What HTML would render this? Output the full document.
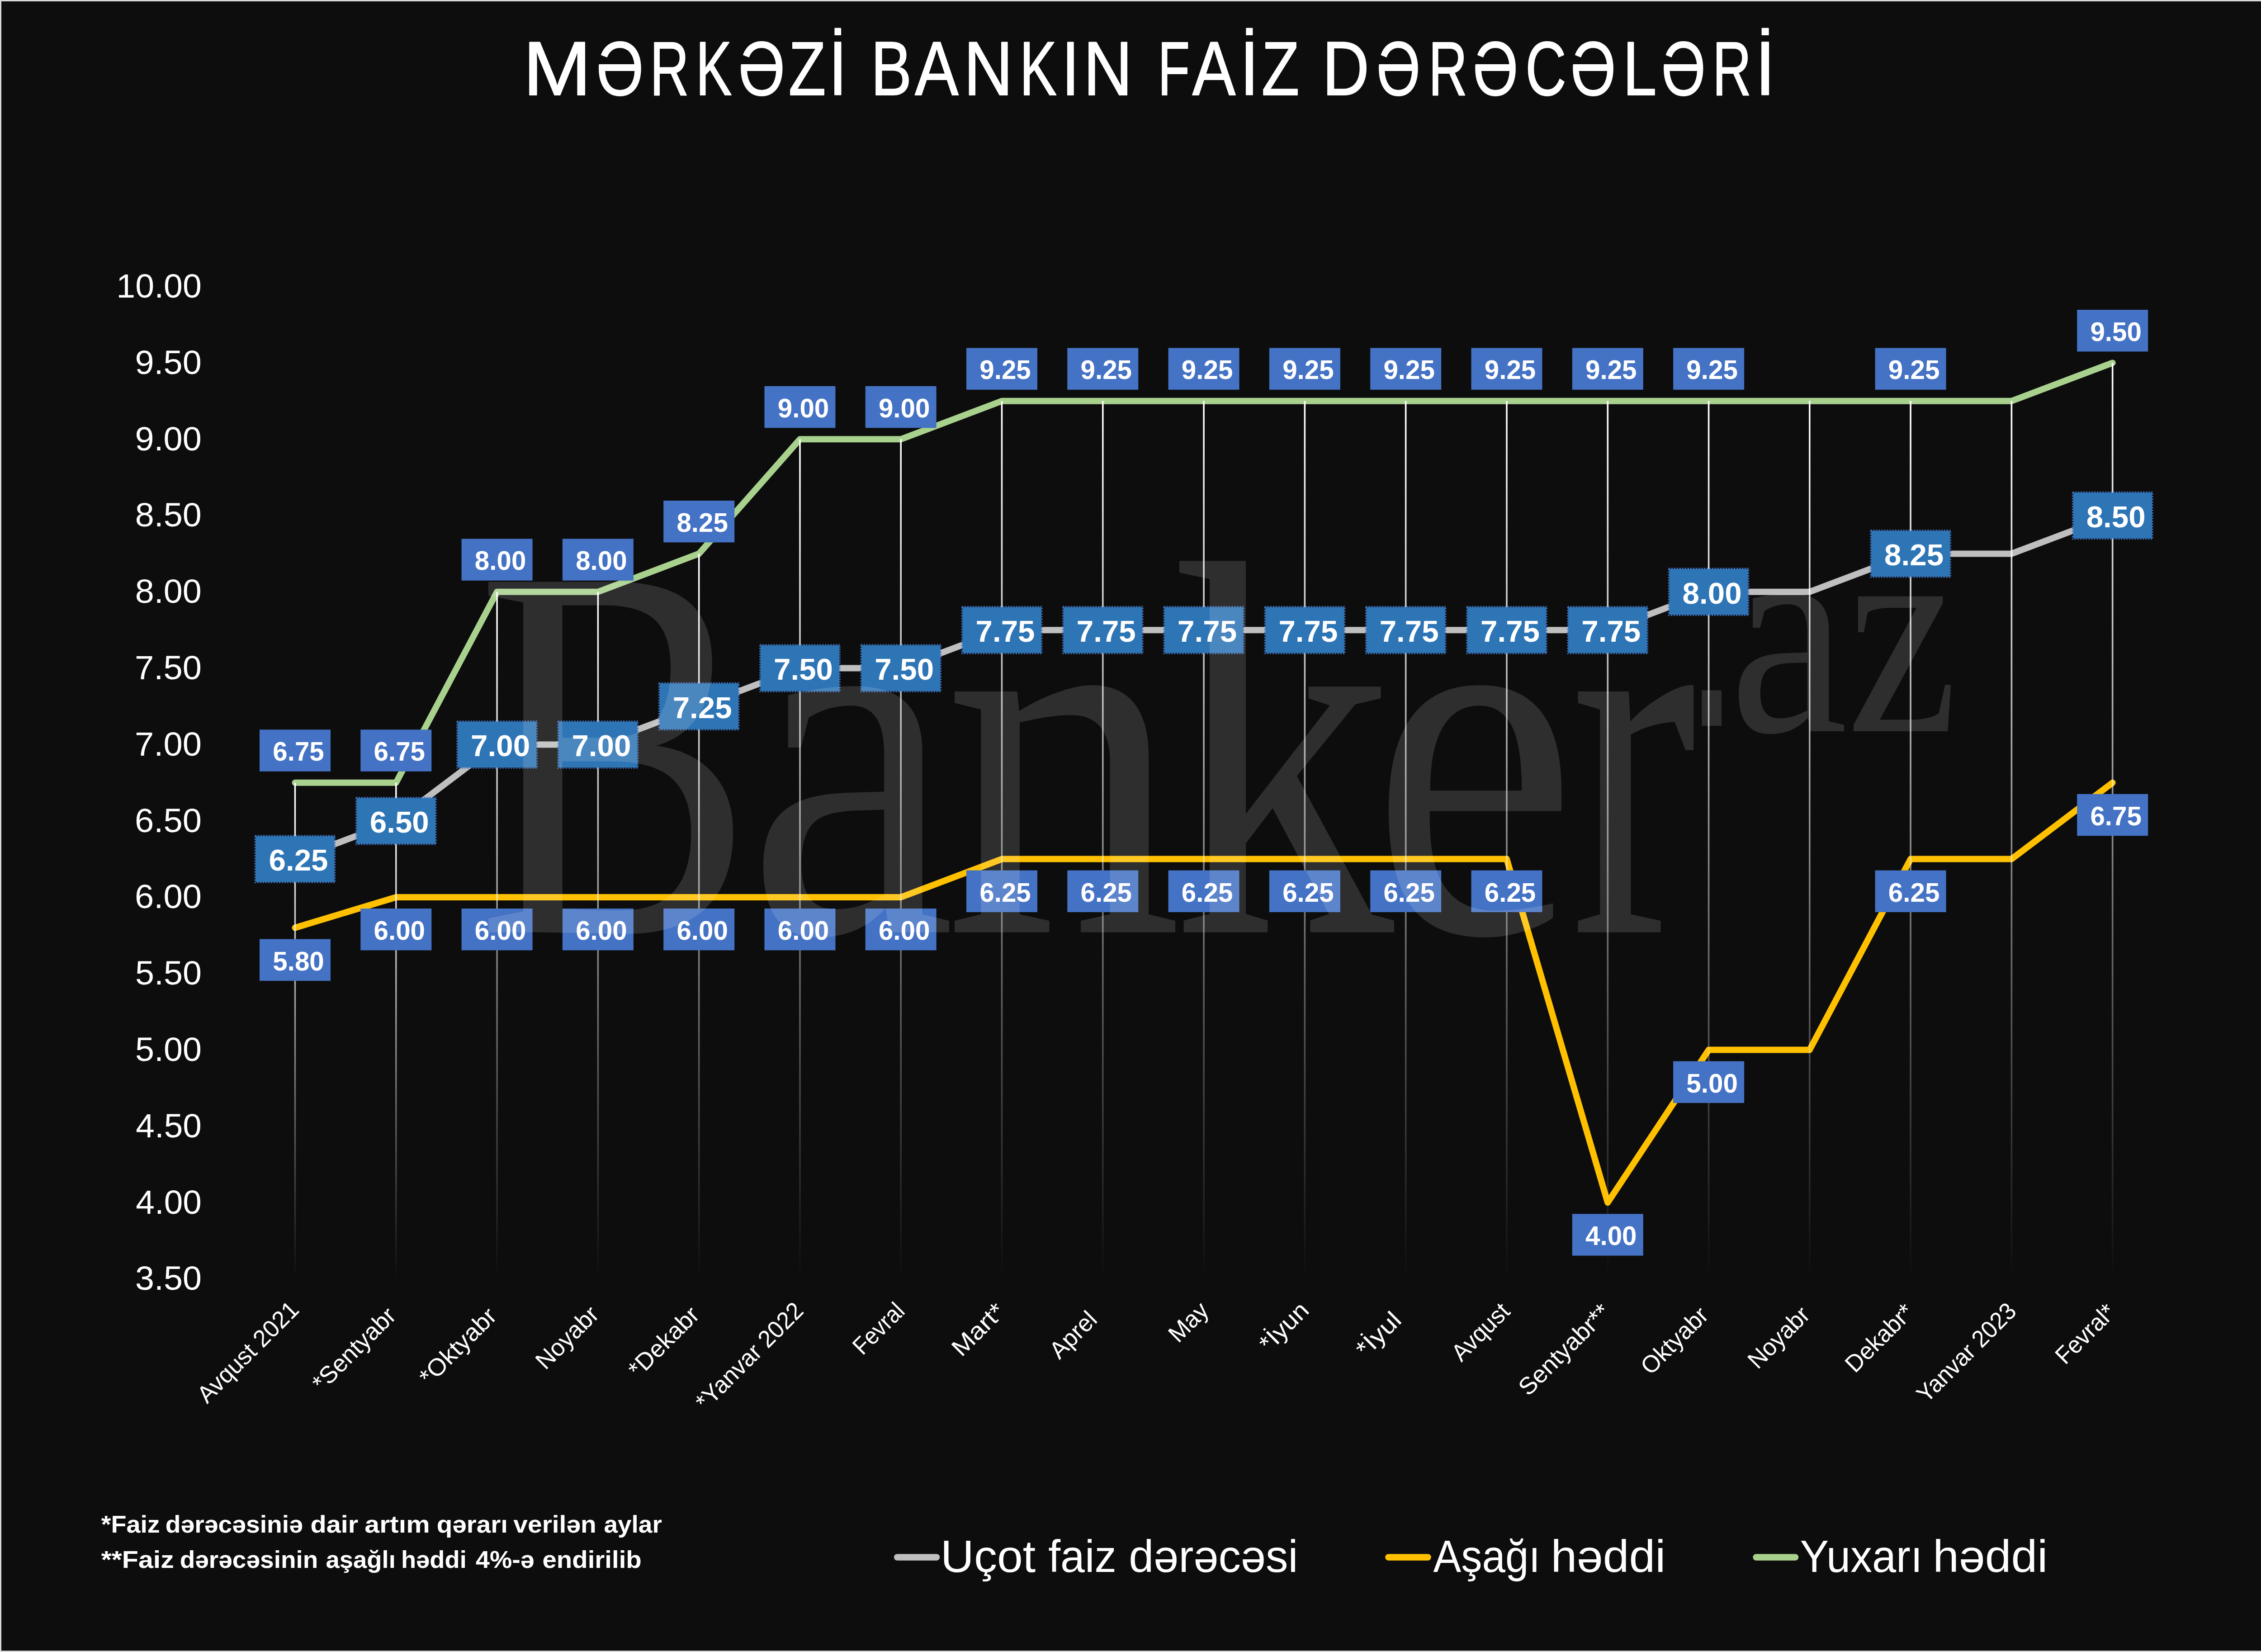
<!DOCTYPE html>
<html lang="az"><head><meta charset="utf-8"><title>MƏRKƏZİ BANKIN FAİZ DƏRƏCƏLƏRİ</title>
<style>html,body{margin:0;padding:0;background:#0d0d0d;}body{width:5082px;height:3653px;overflow:hidden}svg{display:block}</style>
</head><body>
<svg width="5082" height="3653" viewBox="0 0 5082 3653">
<defs>
<linearGradient id="g0" gradientUnits="userSpaceOnUse" x1="0" y1="1730.8" x2="0" y2="2828.0"><stop offset="0" stop-color="#fff" stop-opacity="1"/><stop offset="0.316" stop-color="#fff" stop-opacity="0.72"/><stop offset="0.728" stop-color="#fff" stop-opacity="0.277"/><stop offset="1" stop-color="#fff" stop-opacity="0"/></linearGradient>
<linearGradient id="g1" gradientUnits="userSpaceOnUse" x1="0" y1="1730.8" x2="0" y2="2828.0"><stop offset="0" stop-color="#fff" stop-opacity="1"/><stop offset="0.316" stop-color="#fff" stop-opacity="0.72"/><stop offset="0.728" stop-color="#fff" stop-opacity="0.277"/><stop offset="1" stop-color="#fff" stop-opacity="0"/></linearGradient>
<linearGradient id="g2" gradientUnits="userSpaceOnUse" x1="0" y1="1308.8" x2="0" y2="2828.0"><stop offset="0" stop-color="#fff" stop-opacity="1"/><stop offset="0.316" stop-color="#fff" stop-opacity="0.72"/><stop offset="0.728" stop-color="#fff" stop-opacity="0.277"/><stop offset="1" stop-color="#fff" stop-opacity="0"/></linearGradient>
<linearGradient id="g3" gradientUnits="userSpaceOnUse" x1="0" y1="1308.8" x2="0" y2="2828.0"><stop offset="0" stop-color="#fff" stop-opacity="1"/><stop offset="0.316" stop-color="#fff" stop-opacity="0.72"/><stop offset="0.728" stop-color="#fff" stop-opacity="0.277"/><stop offset="1" stop-color="#fff" stop-opacity="0"/></linearGradient>
<linearGradient id="g4" gradientUnits="userSpaceOnUse" x1="0" y1="1224.4" x2="0" y2="2828.0"><stop offset="0" stop-color="#fff" stop-opacity="1"/><stop offset="0.316" stop-color="#fff" stop-opacity="0.72"/><stop offset="0.728" stop-color="#fff" stop-opacity="0.277"/><stop offset="1" stop-color="#fff" stop-opacity="0"/></linearGradient>
<linearGradient id="g5" gradientUnits="userSpaceOnUse" x1="0" y1="971.2" x2="0" y2="2828.0"><stop offset="0" stop-color="#fff" stop-opacity="1"/><stop offset="0.316" stop-color="#fff" stop-opacity="0.72"/><stop offset="0.728" stop-color="#fff" stop-opacity="0.277"/><stop offset="1" stop-color="#fff" stop-opacity="0"/></linearGradient>
<linearGradient id="g6" gradientUnits="userSpaceOnUse" x1="0" y1="971.2" x2="0" y2="2828.0"><stop offset="0" stop-color="#fff" stop-opacity="1"/><stop offset="0.316" stop-color="#fff" stop-opacity="0.72"/><stop offset="0.728" stop-color="#fff" stop-opacity="0.277"/><stop offset="1" stop-color="#fff" stop-opacity="0"/></linearGradient>
<linearGradient id="g7" gradientUnits="userSpaceOnUse" x1="0" y1="886.8" x2="0" y2="2828.0"><stop offset="0" stop-color="#fff" stop-opacity="1"/><stop offset="0.316" stop-color="#fff" stop-opacity="0.72"/><stop offset="0.728" stop-color="#fff" stop-opacity="0.277"/><stop offset="1" stop-color="#fff" stop-opacity="0"/></linearGradient>
<linearGradient id="g8" gradientUnits="userSpaceOnUse" x1="0" y1="886.8" x2="0" y2="2828.0"><stop offset="0" stop-color="#fff" stop-opacity="1"/><stop offset="0.316" stop-color="#fff" stop-opacity="0.72"/><stop offset="0.728" stop-color="#fff" stop-opacity="0.277"/><stop offset="1" stop-color="#fff" stop-opacity="0"/></linearGradient>
<linearGradient id="g9" gradientUnits="userSpaceOnUse" x1="0" y1="886.8" x2="0" y2="2828.0"><stop offset="0" stop-color="#fff" stop-opacity="1"/><stop offset="0.316" stop-color="#fff" stop-opacity="0.72"/><stop offset="0.728" stop-color="#fff" stop-opacity="0.277"/><stop offset="1" stop-color="#fff" stop-opacity="0"/></linearGradient>
<linearGradient id="g10" gradientUnits="userSpaceOnUse" x1="0" y1="886.8" x2="0" y2="2828.0"><stop offset="0" stop-color="#fff" stop-opacity="1"/><stop offset="0.316" stop-color="#fff" stop-opacity="0.72"/><stop offset="0.728" stop-color="#fff" stop-opacity="0.277"/><stop offset="1" stop-color="#fff" stop-opacity="0"/></linearGradient>
<linearGradient id="g11" gradientUnits="userSpaceOnUse" x1="0" y1="886.8" x2="0" y2="2828.0"><stop offset="0" stop-color="#fff" stop-opacity="1"/><stop offset="0.316" stop-color="#fff" stop-opacity="0.72"/><stop offset="0.728" stop-color="#fff" stop-opacity="0.277"/><stop offset="1" stop-color="#fff" stop-opacity="0"/></linearGradient>
<linearGradient id="g12" gradientUnits="userSpaceOnUse" x1="0" y1="886.8" x2="0" y2="2828.0"><stop offset="0" stop-color="#fff" stop-opacity="1"/><stop offset="0.316" stop-color="#fff" stop-opacity="0.72"/><stop offset="0.728" stop-color="#fff" stop-opacity="0.277"/><stop offset="1" stop-color="#fff" stop-opacity="0"/></linearGradient>
<linearGradient id="g13" gradientUnits="userSpaceOnUse" x1="0" y1="886.8" x2="0" y2="2828.0"><stop offset="0" stop-color="#fff" stop-opacity="1"/><stop offset="0.316" stop-color="#fff" stop-opacity="0.72"/><stop offset="0.728" stop-color="#fff" stop-opacity="0.277"/><stop offset="1" stop-color="#fff" stop-opacity="0"/></linearGradient>
<linearGradient id="g14" gradientUnits="userSpaceOnUse" x1="0" y1="886.8" x2="0" y2="2828.0"><stop offset="0" stop-color="#fff" stop-opacity="1"/><stop offset="0.316" stop-color="#fff" stop-opacity="0.72"/><stop offset="0.728" stop-color="#fff" stop-opacity="0.277"/><stop offset="1" stop-color="#fff" stop-opacity="0"/></linearGradient>
<linearGradient id="g15" gradientUnits="userSpaceOnUse" x1="0" y1="886.8" x2="0" y2="2828.0"><stop offset="0" stop-color="#fff" stop-opacity="1"/><stop offset="0.316" stop-color="#fff" stop-opacity="0.72"/><stop offset="0.728" stop-color="#fff" stop-opacity="0.277"/><stop offset="1" stop-color="#fff" stop-opacity="0"/></linearGradient>
<linearGradient id="g16" gradientUnits="userSpaceOnUse" x1="0" y1="886.8" x2="0" y2="2828.0"><stop offset="0" stop-color="#fff" stop-opacity="1"/><stop offset="0.316" stop-color="#fff" stop-opacity="0.72"/><stop offset="0.728" stop-color="#fff" stop-opacity="0.277"/><stop offset="1" stop-color="#fff" stop-opacity="0"/></linearGradient>
<linearGradient id="g17" gradientUnits="userSpaceOnUse" x1="0" y1="886.8" x2="0" y2="2828.0"><stop offset="0" stop-color="#fff" stop-opacity="1"/><stop offset="0.316" stop-color="#fff" stop-opacity="0.72"/><stop offset="0.728" stop-color="#fff" stop-opacity="0.277"/><stop offset="1" stop-color="#fff" stop-opacity="0"/></linearGradient>
<linearGradient id="g18" gradientUnits="userSpaceOnUse" x1="0" y1="802.4" x2="0" y2="2828.0"><stop offset="0" stop-color="#fff" stop-opacity="1"/><stop offset="0.316" stop-color="#fff" stop-opacity="0.72"/><stop offset="0.728" stop-color="#fff" stop-opacity="0.277"/><stop offset="1" stop-color="#fff" stop-opacity="0"/></linearGradient>
</defs>
<rect x="0" y="0" width="5082" height="3653" fill="#d9d9d9"/>
<rect x="3" y="3" width="5076" height="3647" fill="#0d0d0d"/>
<polyline points="652.5,1899.6 875.8,1815.2 1099.1,1646.4 1322.4,1646.4 1545.7,1562.0 1769.0,1477.6 1992.2,1477.6 2215.5,1393.2 2438.8,1393.2 2662.1,1393.2 2885.4,1393.2 3108.7,1393.2 3332.0,1393.2 3555.3,1393.2 3778.6,1308.8 4001.8,1308.8 4225.1,1224.4 4448.4,1224.4 4671.7,1140.0" fill="none" stroke="#bfbfbf" stroke-width="14" stroke-linecap="round" stroke-linejoin="round"/>
<polyline points="652.5,2051.5 875.8,1984.0 1099.1,1984.0 1322.4,1984.0 1545.7,1984.0 1769.0,1984.0 1992.2,1984.0 2215.5,1899.6 2438.8,1899.6 2662.1,1899.6 2885.4,1899.6 3108.7,1899.6 3332.0,1899.6 3555.3,2659.2 3778.6,2321.6 4001.8,2321.6 4225.1,1899.6 4448.4,1899.6 4671.7,1730.8" fill="none" stroke="#ffc000" stroke-width="14" stroke-linecap="round" stroke-linejoin="round"/>
<polyline points="652.5,1730.8 875.8,1730.8 1099.1,1308.8 1322.4,1308.8 1545.7,1224.4 1769.0,971.2 1992.2,971.2 2215.5,886.8 2438.8,886.8 2662.1,886.8 2885.4,886.8 3108.7,886.8 3332.0,886.8 3555.3,886.8 3778.6,886.8 4001.8,886.8 4225.1,886.8 4448.4,886.8 4671.7,802.4" fill="none" stroke="#a9d18e" stroke-width="14" stroke-linecap="round" stroke-linejoin="round"/>
<rect x="650.7" y="1730.8" width="3.6" height="1097.2" fill="url(#g0)"/>
<rect x="874.0" y="1730.8" width="3.6" height="1097.2" fill="url(#g1)"/>
<rect x="1097.3" y="1308.8" width="3.6" height="1519.2" fill="url(#g2)"/>
<rect x="1320.6" y="1308.8" width="3.6" height="1519.2" fill="url(#g3)"/>
<rect x="1543.9" y="1224.4" width="3.6" height="1603.6" fill="url(#g4)"/>
<rect x="1767.2" y="971.2" width="3.6" height="1856.8" fill="url(#g5)"/>
<rect x="1990.4" y="971.2" width="3.6" height="1856.8" fill="url(#g6)"/>
<rect x="2213.7" y="886.8" width="3.6" height="1941.2" fill="url(#g7)"/>
<rect x="2437.0" y="886.8" width="3.6" height="1941.2" fill="url(#g8)"/>
<rect x="2660.3" y="886.8" width="3.6" height="1941.2" fill="url(#g9)"/>
<rect x="2883.6" y="886.8" width="3.6" height="1941.2" fill="url(#g10)"/>
<rect x="3106.9" y="886.8" width="3.6" height="1941.2" fill="url(#g11)"/>
<rect x="3330.2" y="886.8" width="3.6" height="1941.2" fill="url(#g12)"/>
<rect x="3553.5" y="886.8" width="3.6" height="1941.2" fill="url(#g13)"/>
<rect x="3776.8" y="886.8" width="3.6" height="1941.2" fill="url(#g14)"/>
<rect x="4000.0" y="886.8" width="3.6" height="1941.2" fill="url(#g15)"/>
<rect x="4223.3" y="886.8" width="3.6" height="1941.2" fill="url(#g16)"/>
<rect x="4446.6" y="886.8" width="3.6" height="1941.2" fill="url(#g17)"/>
<rect x="4669.9" y="802.4" width="3.6" height="2025.6" fill="url(#g18)"/>
<g font-family="'Liberation Sans', sans-serif" font-weight="bold" fill="#fff" text-anchor="middle">
<rect x="574.0" y="1613.4" width="157" height="92.4" fill="#4472c4"/>
<text x="660.0" y="1682.4" font-size="59.5" textLength="113.5" lengthAdjust="spacingAndGlyphs">6.75</text>
<rect x="574.0" y="2076.5" width="157" height="92.4" fill="#4472c4"/>
<text x="660.0" y="2145.5" font-size="59.5" textLength="113.5" lengthAdjust="spacingAndGlyphs">5.80</text>
<rect x="797.3" y="1613.4" width="157" height="92.4" fill="#4472c4"/>
<text x="883.3" y="1682.4" font-size="59.5" textLength="113.5" lengthAdjust="spacingAndGlyphs">6.75</text>
<rect x="797.3" y="2009.0" width="157" height="92.4" fill="#4472c4"/>
<text x="883.3" y="2078.0" font-size="59.5" textLength="113.5" lengthAdjust="spacingAndGlyphs">6.00</text>
<rect x="1020.6" y="1191.4" width="157" height="92.4" fill="#4472c4"/>
<text x="1106.6" y="1260.4" font-size="59.5" textLength="113.5" lengthAdjust="spacingAndGlyphs">8.00</text>
<rect x="1020.6" y="2009.0" width="157" height="92.4" fill="#4472c4"/>
<text x="1106.6" y="2078.0" font-size="59.5" textLength="113.5" lengthAdjust="spacingAndGlyphs">6.00</text>
<rect x="1243.9" y="1191.4" width="157" height="92.4" fill="#4472c4"/>
<text x="1329.9" y="1260.4" font-size="59.5" textLength="113.5" lengthAdjust="spacingAndGlyphs">8.00</text>
<rect x="1243.9" y="2009.0" width="157" height="92.4" fill="#4472c4"/>
<text x="1329.9" y="2078.0" font-size="59.5" textLength="113.5" lengthAdjust="spacingAndGlyphs">6.00</text>
<rect x="1467.2" y="1107.0" width="157" height="92.4" fill="#4472c4"/>
<text x="1553.2" y="1176.0" font-size="59.5" textLength="113.5" lengthAdjust="spacingAndGlyphs">8.25</text>
<rect x="1467.2" y="2009.0" width="157" height="92.4" fill="#4472c4"/>
<text x="1553.2" y="2078.0" font-size="59.5" textLength="113.5" lengthAdjust="spacingAndGlyphs">6.00</text>
<rect x="1690.5" y="853.8" width="157" height="92.4" fill="#4472c4"/>
<text x="1776.5" y="922.8" font-size="59.5" textLength="113.5" lengthAdjust="spacingAndGlyphs">9.00</text>
<rect x="1690.5" y="2009.0" width="157" height="92.4" fill="#4472c4"/>
<text x="1776.5" y="2078.0" font-size="59.5" textLength="113.5" lengthAdjust="spacingAndGlyphs">6.00</text>
<rect x="1913.7" y="853.8" width="157" height="92.4" fill="#4472c4"/>
<text x="1999.7" y="922.8" font-size="59.5" textLength="113.5" lengthAdjust="spacingAndGlyphs">9.00</text>
<rect x="1913.7" y="2009.0" width="157" height="92.4" fill="#4472c4"/>
<text x="1999.7" y="2078.0" font-size="59.5" textLength="113.5" lengthAdjust="spacingAndGlyphs">6.00</text>
<rect x="2137.0" y="769.4" width="157" height="92.4" fill="#4472c4"/>
<text x="2223.0" y="838.4" font-size="59.5" textLength="113.5" lengthAdjust="spacingAndGlyphs">9.25</text>
<rect x="2137.0" y="1924.6" width="157" height="92.4" fill="#4472c4"/>
<text x="2223.0" y="1993.6" font-size="59.5" textLength="113.5" lengthAdjust="spacingAndGlyphs">6.25</text>
<rect x="2360.3" y="769.4" width="157" height="92.4" fill="#4472c4"/>
<text x="2446.3" y="838.4" font-size="59.5" textLength="113.5" lengthAdjust="spacingAndGlyphs">9.25</text>
<rect x="2360.3" y="1924.6" width="157" height="92.4" fill="#4472c4"/>
<text x="2446.3" y="1993.6" font-size="59.5" textLength="113.5" lengthAdjust="spacingAndGlyphs">6.25</text>
<rect x="2583.6" y="769.4" width="157" height="92.4" fill="#4472c4"/>
<text x="2669.6" y="838.4" font-size="59.5" textLength="113.5" lengthAdjust="spacingAndGlyphs">9.25</text>
<rect x="2583.6" y="1924.6" width="157" height="92.4" fill="#4472c4"/>
<text x="2669.6" y="1993.6" font-size="59.5" textLength="113.5" lengthAdjust="spacingAndGlyphs">6.25</text>
<rect x="2806.9" y="769.4" width="157" height="92.4" fill="#4472c4"/>
<text x="2892.9" y="838.4" font-size="59.5" textLength="113.5" lengthAdjust="spacingAndGlyphs">9.25</text>
<rect x="2806.9" y="1924.6" width="157" height="92.4" fill="#4472c4"/>
<text x="2892.9" y="1993.6" font-size="59.5" textLength="113.5" lengthAdjust="spacingAndGlyphs">6.25</text>
<rect x="3030.2" y="769.4" width="157" height="92.4" fill="#4472c4"/>
<text x="3116.2" y="838.4" font-size="59.5" textLength="113.5" lengthAdjust="spacingAndGlyphs">9.25</text>
<rect x="3030.2" y="1924.6" width="157" height="92.4" fill="#4472c4"/>
<text x="3116.2" y="1993.6" font-size="59.5" textLength="113.5" lengthAdjust="spacingAndGlyphs">6.25</text>
<rect x="3253.5" y="769.4" width="157" height="92.4" fill="#4472c4"/>
<text x="3339.5" y="838.4" font-size="59.5" textLength="113.5" lengthAdjust="spacingAndGlyphs">9.25</text>
<rect x="3253.5" y="1924.6" width="157" height="92.4" fill="#4472c4"/>
<text x="3339.5" y="1993.6" font-size="59.5" textLength="113.5" lengthAdjust="spacingAndGlyphs">6.25</text>
<rect x="3476.8" y="769.4" width="157" height="92.4" fill="#4472c4"/>
<text x="3562.8" y="838.4" font-size="59.5" textLength="113.5" lengthAdjust="spacingAndGlyphs">9.25</text>
<rect x="3476.8" y="2684.2" width="157" height="92.4" fill="#4472c4"/>
<text x="3562.8" y="2753.2" font-size="59.5" textLength="113.5" lengthAdjust="spacingAndGlyphs">4.00</text>
<rect x="3700.1" y="769.4" width="157" height="92.4" fill="#4472c4"/>
<text x="3786.1" y="838.4" font-size="59.5" textLength="113.5" lengthAdjust="spacingAndGlyphs">9.25</text>
<rect x="3700.1" y="2346.6" width="157" height="92.4" fill="#4472c4"/>
<text x="3786.1" y="2415.6" font-size="59.5" textLength="113.5" lengthAdjust="spacingAndGlyphs">5.00</text>
<rect x="4146.6" y="769.4" width="157" height="92.4" fill="#4472c4"/>
<text x="4232.6" y="838.4" font-size="59.5" textLength="113.5" lengthAdjust="spacingAndGlyphs">9.25</text>
<rect x="4146.6" y="1924.6" width="157" height="92.4" fill="#4472c4"/>
<text x="4232.6" y="1993.6" font-size="59.5" textLength="113.5" lengthAdjust="spacingAndGlyphs">6.25</text>
<rect x="4593.2" y="685.0" width="157" height="92.4" fill="#4472c4"/>
<text x="4679.2" y="754.0" font-size="59.5" textLength="113.5" lengthAdjust="spacingAndGlyphs">9.50</text>
<rect x="4593.2" y="1755.8" width="157" height="92.4" fill="#4472c4"/>
<text x="4679.2" y="1824.8" font-size="59.5" textLength="113.5" lengthAdjust="spacingAndGlyphs">6.75</text>
<rect x="565.2" y="1848.8" width="174.5" height="101.5" fill="#2e75b6"/>
<rect x="564.00" y="1847.60" width="177.0" height="104.0" fill="none" stroke="#4472c4" stroke-width="2.5" stroke-dasharray="3 3"/>
<text x="660.0" y="1925.4" font-size="67" textLength="131" lengthAdjust="spacingAndGlyphs">6.25</text>
<rect x="788.5" y="1764.5" width="174.5" height="101.5" fill="#2e75b6"/>
<rect x="787.29" y="1763.20" width="177.0" height="104.0" fill="none" stroke="#4472c4" stroke-width="2.5" stroke-dasharray="3 3"/>
<text x="883.3" y="1841.0" font-size="67" textLength="131" lengthAdjust="spacingAndGlyphs">6.50</text>
<rect x="1011.8" y="1595.7" width="174.5" height="101.5" fill="#2e75b6"/>
<rect x="1010.58" y="1594.40" width="177.0" height="104.0" fill="none" stroke="#4472c4" stroke-width="2.5" stroke-dasharray="3 3"/>
<text x="1106.6" y="1672.2" font-size="67" textLength="131" lengthAdjust="spacingAndGlyphs">7.00</text>
<rect x="1235.1" y="1595.7" width="174.5" height="101.5" fill="#2e75b6"/>
<rect x="1233.87" y="1594.40" width="177.0" height="104.0" fill="none" stroke="#4472c4" stroke-width="2.5" stroke-dasharray="3 3"/>
<text x="1329.9" y="1672.2" font-size="67" textLength="131" lengthAdjust="spacingAndGlyphs">7.00</text>
<rect x="1458.4" y="1511.2" width="174.5" height="101.5" fill="#2e75b6"/>
<rect x="1457.16" y="1510.00" width="177.0" height="104.0" fill="none" stroke="#4472c4" stroke-width="2.5" stroke-dasharray="3 3"/>
<text x="1553.2" y="1587.8" font-size="67" textLength="131" lengthAdjust="spacingAndGlyphs">7.25</text>
<rect x="1681.7" y="1426.8" width="174.5" height="101.5" fill="#2e75b6"/>
<rect x="1680.45" y="1425.60" width="177.0" height="104.0" fill="none" stroke="#4472c4" stroke-width="2.5" stroke-dasharray="3 3"/>
<text x="1776.5" y="1503.4" font-size="67" textLength="131" lengthAdjust="spacingAndGlyphs">7.50</text>
<rect x="1905.0" y="1426.8" width="174.5" height="101.5" fill="#2e75b6"/>
<rect x="1903.74" y="1425.60" width="177.0" height="104.0" fill="none" stroke="#4472c4" stroke-width="2.5" stroke-dasharray="3 3"/>
<text x="1999.7" y="1503.4" font-size="67" textLength="131" lengthAdjust="spacingAndGlyphs">7.50</text>
<rect x="2128.3" y="1342.4" width="174.5" height="101.5" fill="#2e75b6"/>
<rect x="2127.03" y="1341.20" width="177.0" height="104.0" fill="none" stroke="#4472c4" stroke-width="2.5" stroke-dasharray="3 3"/>
<text x="2223.0" y="1419.0" font-size="67" textLength="131" lengthAdjust="spacingAndGlyphs">7.75</text>
<rect x="2351.6" y="1342.4" width="174.5" height="101.5" fill="#2e75b6"/>
<rect x="2350.32" y="1341.20" width="177.0" height="104.0" fill="none" stroke="#4472c4" stroke-width="2.5" stroke-dasharray="3 3"/>
<text x="2446.3" y="1419.0" font-size="67" textLength="131" lengthAdjust="spacingAndGlyphs">7.75</text>
<rect x="2574.9" y="1342.4" width="174.5" height="101.5" fill="#2e75b6"/>
<rect x="2573.61" y="1341.20" width="177.0" height="104.0" fill="none" stroke="#4472c4" stroke-width="2.5" stroke-dasharray="3 3"/>
<text x="2669.6" y="1419.0" font-size="67" textLength="131" lengthAdjust="spacingAndGlyphs">7.75</text>
<rect x="2798.2" y="1342.4" width="174.5" height="101.5" fill="#2e75b6"/>
<rect x="2796.90" y="1341.20" width="177.0" height="104.0" fill="none" stroke="#4472c4" stroke-width="2.5" stroke-dasharray="3 3"/>
<text x="2892.9" y="1419.0" font-size="67" textLength="131" lengthAdjust="spacingAndGlyphs">7.75</text>
<rect x="3021.4" y="1342.4" width="174.5" height="101.5" fill="#2e75b6"/>
<rect x="3020.19" y="1341.20" width="177.0" height="104.0" fill="none" stroke="#4472c4" stroke-width="2.5" stroke-dasharray="3 3"/>
<text x="3116.2" y="1419.0" font-size="67" textLength="131" lengthAdjust="spacingAndGlyphs">7.75</text>
<rect x="3244.7" y="1342.4" width="174.5" height="101.5" fill="#2e75b6"/>
<rect x="3243.48" y="1341.20" width="177.0" height="104.0" fill="none" stroke="#4472c4" stroke-width="2.5" stroke-dasharray="3 3"/>
<text x="3339.5" y="1419.0" font-size="67" textLength="131" lengthAdjust="spacingAndGlyphs">7.75</text>
<rect x="3468.0" y="1342.4" width="174.5" height="101.5" fill="#2e75b6"/>
<rect x="3466.77" y="1341.20" width="177.0" height="104.0" fill="none" stroke="#4472c4" stroke-width="2.5" stroke-dasharray="3 3"/>
<text x="3562.8" y="1419.0" font-size="67" textLength="131" lengthAdjust="spacingAndGlyphs">7.75</text>
<rect x="3691.3" y="1258.0" width="174.5" height="101.5" fill="#2e75b6"/>
<rect x="3690.06" y="1256.80" width="177.0" height="104.0" fill="none" stroke="#4472c4" stroke-width="2.5" stroke-dasharray="3 3"/>
<text x="3786.1" y="1334.6" font-size="67" textLength="131" lengthAdjust="spacingAndGlyphs">8.00</text>
<rect x="4137.9" y="1173.7" width="174.5" height="101.5" fill="#2e75b6"/>
<rect x="4136.64" y="1172.40" width="177.0" height="104.0" fill="none" stroke="#4472c4" stroke-width="2.5" stroke-dasharray="3 3"/>
<text x="4232.6" y="1250.2" font-size="67" textLength="131" lengthAdjust="spacingAndGlyphs">8.25</text>
<rect x="4584.5" y="1089.2" width="174.5" height="101.5" fill="#2e75b6"/>
<rect x="4583.22" y="1088.00" width="177.0" height="104.0" fill="none" stroke="#4472c4" stroke-width="2.5" stroke-dasharray="3 3"/>
<text x="4679.2" y="1165.8" font-size="67" textLength="131" lengthAdjust="spacingAndGlyphs">8.50</text>
</g>
<g font-family="'Liberation Sans', sans-serif" fill="#fff" text-anchor="end" font-size="53.5">
<text transform="translate(664.1 2899.4) rotate(-45)" textLength="291.5" lengthAdjust="spacingAndGlyphs">Avqust 2021</text>
<text transform="translate(878.8 2912.8) rotate(-45)" textLength="235.7" lengthAdjust="spacingAndGlyphs">*Sentyabr</text>
<text transform="translate(1101.7 2913.5) rotate(-45)" textLength="216.0" lengthAdjust="spacingAndGlyphs">*Oktyabr</text>
<text transform="translate(1327.5 2909.9) rotate(-45)" textLength="171.3" lengthAdjust="spacingAndGlyphs">Noyabr</text>
<text transform="translate(1549.8 2910.9) rotate(-45)" textLength="195.9" lengthAdjust="spacingAndGlyphs">*Dekabr</text>
<text transform="translate(1779.7 2901.7) rotate(-45)" textLength="310.5" lengthAdjust="spacingAndGlyphs">*Yanvar 2022</text>
<text transform="translate(2003.6 2902.3) rotate(-45)" textLength="135.9" lengthAdjust="spacingAndGlyphs">Fevral</text>
<text transform="translate(2225.6 2903.0) rotate(-45)" textLength="140.5" lengthAdjust="spacingAndGlyphs">Mart*</text>
<text transform="translate(2429.1 2921.3) rotate(-45)" textLength="122.2" lengthAdjust="spacingAndGlyphs">Aprel</text>
<text transform="translate(2676.0 2901.1) rotate(-45)" textLength="99.4" lengthAdjust="spacingAndGlyphs">May</text>
<text transform="translate(2897.7 2900.6) rotate(-45)" textLength="129.3" lengthAdjust="spacingAndGlyphs">*İyun</text>
<text transform="translate(3102.2 2922.5) rotate(-45)" textLength="116.0" lengthAdjust="spacingAndGlyphs">*İyul</text>
<text transform="translate(3342.0 2903.0) rotate(-45)" textLength="155.9" lengthAdjust="spacingAndGlyphs">Avqust</text>
<text transform="translate(3564.3 2904.7) rotate(-45)" textLength="261.0" lengthAdjust="spacingAndGlyphs">Sentyabr**</text>
<text transform="translate(3781.2 2911.7) rotate(-45)" textLength="185.2" lengthAdjust="spacingAndGlyphs">Oktyabr</text>
<text transform="translate(4005.6 2910.9) rotate(-45)" textLength="167.8" lengthAdjust="spacingAndGlyphs">Noyabr</text>
<text transform="translate(4235.4 2904.9) rotate(-45)" textLength="188.2" lengthAdjust="spacingAndGlyphs">Dekabr*</text>
<text transform="translate(4462.1 2902.7) rotate(-45)" textLength="285.1" lengthAdjust="spacingAndGlyphs">Yanvar 2023</text>
<text transform="translate(4681.7 2904.9) rotate(-45)" textLength="162.2" lengthAdjust="spacingAndGlyphs">Fevral*</text>
</g>
<text y="210.2" font-size="168.9" font-family="'Liberation Sans', sans-serif" fill="#fff" stroke="#fff" stroke-width="2" stroke-linejoin="round" aria-label="MƏRKƏZİ BANKIN FAİZ DƏRƏCƏLƏRİ"><tspan x="1156.6" textLength="151.3" lengthAdjust="spacingAndGlyphs">M</tspan><tspan x="1318.6" textLength="104.8" lengthAdjust="spacingAndGlyphs">Ə</tspan><tspan x="1437.2" textLength="86.4" lengthAdjust="spacingAndGlyphs">R</tspan><tspan x="1538.7" textLength="79.6" lengthAdjust="spacingAndGlyphs">K</tspan><tspan x="1632.7" textLength="103.1" lengthAdjust="spacingAndGlyphs">Ə</tspan><tspan x="1743.7" textLength="82.5" lengthAdjust="spacingAndGlyphs">Z</tspan><tspan x="1832.5" textLength="40.5" lengthAdjust="spacingAndGlyphs">İ</tspan> <tspan x="1925.9" textLength="90.2" lengthAdjust="spacingAndGlyphs">B</tspan><tspan x="2023.3" textLength="96.5" lengthAdjust="spacingAndGlyphs">A</tspan><tspan x="2131.2" textLength="108.6" lengthAdjust="spacingAndGlyphs">N</tspan><tspan x="2254.7" textLength="82.2" lengthAdjust="spacingAndGlyphs">K</tspan><tspan x="2348.1" textLength="38.7" lengthAdjust="spacingAndGlyphs">I</tspan><tspan x="2395.7" textLength="108.6" lengthAdjust="spacingAndGlyphs">N</tspan> <tspan x="2560.5" textLength="70.6" lengthAdjust="spacingAndGlyphs">F</tspan><tspan x="2636.7" textLength="95.6" lengthAdjust="spacingAndGlyphs">A</tspan><tspan x="2742.1" textLength="41.7" lengthAdjust="spacingAndGlyphs">İ</tspan><tspan x="2789.7" textLength="83.6" lengthAdjust="spacingAndGlyphs">Z</tspan> <tspan x="2924.2" textLength="103.6" lengthAdjust="spacingAndGlyphs">D</tspan><tspan x="3044.1" textLength="96.8" lengthAdjust="spacingAndGlyphs">Ə</tspan><tspan x="3158.9" textLength="86.0" lengthAdjust="spacingAndGlyphs">R</tspan><tspan x="3256.9" textLength="100.2" lengthAdjust="spacingAndGlyphs">Ə</tspan><tspan x="3373.3" textLength="90.4" lengthAdjust="spacingAndGlyphs">C</tspan><tspan x="3472.9" textLength="100.2" lengthAdjust="spacingAndGlyphs">Ə</tspan><tspan x="3589.0" textLength="74.4" lengthAdjust="spacingAndGlyphs">L</tspan><tspan x="3674.0" textLength="97.6" lengthAdjust="spacingAndGlyphs">Ə</tspan><tspan x="3787.0" textLength="86.0" lengthAdjust="spacingAndGlyphs">R</tspan><tspan x="3881.2" textLength="44.7" lengthAdjust="spacingAndGlyphs">İ</tspan></text>
<text y="658.0" font-size="74.3" font-family="'Liberation Sans', sans-serif" fill="#fff"><tspan x="257.3" textLength="188.7" lengthAdjust="spacingAndGlyphs">10.00</tspan></text>
<text y="826.8" font-size="74.3" font-family="'Liberation Sans', sans-serif" fill="#fff"><tspan x="298.4" textLength="147.5" lengthAdjust="spacingAndGlyphs">9.50</tspan></text>
<text y="995.6" font-size="74.3" font-family="'Liberation Sans', sans-serif" fill="#fff"><tspan x="298.4" textLength="147.5" lengthAdjust="spacingAndGlyphs">9.00</tspan></text>
<text y="1164.4" font-size="74.3" font-family="'Liberation Sans', sans-serif" fill="#fff"><tspan x="298.7" textLength="147.2" lengthAdjust="spacingAndGlyphs">8.50</tspan></text>
<text y="1333.2" font-size="74.3" font-family="'Liberation Sans', sans-serif" fill="#fff"><tspan x="298.7" textLength="147.2" lengthAdjust="spacingAndGlyphs">8.00</tspan></text>
<text y="1502.0" font-size="74.3" font-family="'Liberation Sans', sans-serif" fill="#fff"><tspan x="298.1" textLength="147.9" lengthAdjust="spacingAndGlyphs">7.50</tspan></text>
<text y="1670.8" font-size="74.3" font-family="'Liberation Sans', sans-serif" fill="#fff"><tspan x="298.1" textLength="147.9" lengthAdjust="spacingAndGlyphs">7.00</tspan></text>
<text y="1839.6" font-size="74.3" font-family="'Liberation Sans', sans-serif" fill="#fff"><tspan x="298.1" textLength="147.8" lengthAdjust="spacingAndGlyphs">6.50</tspan></text>
<text y="2008.4" font-size="74.3" font-family="'Liberation Sans', sans-serif" fill="#fff"><tspan x="298.1" textLength="147.8" lengthAdjust="spacingAndGlyphs">6.00</tspan></text>
<text y="2177.2" font-size="74.3" font-family="'Liberation Sans', sans-serif" fill="#fff"><tspan x="299.0" textLength="147.0" lengthAdjust="spacingAndGlyphs">5.50</tspan></text>
<text y="2346.0" font-size="74.3" font-family="'Liberation Sans', sans-serif" fill="#fff"><tspan x="299.0" textLength="147.0" lengthAdjust="spacingAndGlyphs">5.00</tspan></text>
<text y="2514.8" font-size="74.3" font-family="'Liberation Sans', sans-serif" fill="#fff"><tspan x="300.3" textLength="145.6" lengthAdjust="spacingAndGlyphs">4.50</tspan></text>
<text y="2683.6" font-size="74.3" font-family="'Liberation Sans', sans-serif" fill="#fff"><tspan x="300.3" textLength="145.6" lengthAdjust="spacingAndGlyphs">4.00</tspan></text>
<text y="2852.4" font-size="74.3" font-family="'Liberation Sans', sans-serif" fill="#fff"><tspan x="299.1" textLength="146.8" lengthAdjust="spacingAndGlyphs">3.50</tspan></text>
<text y="3389" font-size="54.5" font-family="'Liberation Sans', sans-serif" font-weight="bold" fill="#fff"><tspan x="223.8" textLength="129.9" lengthAdjust="spacingAndGlyphs">*Faiz</tspan> <tspan x="365.7" textLength="304.2" lengthAdjust="spacingAndGlyphs">dərəcəsiniə</tspan> <tspan x="686.6" textLength="105.7" lengthAdjust="spacingAndGlyphs">dair</tspan> <tspan x="806.3" textLength="144.4" lengthAdjust="spacingAndGlyphs">artım</tspan> <tspan x="965.7" textLength="157.3" lengthAdjust="spacingAndGlyphs">qərarı</tspan> <tspan x="1135.3" textLength="183.6" lengthAdjust="spacingAndGlyphs">verilən</tspan> <tspan x="1335.4" textLength="128.4" lengthAdjust="spacingAndGlyphs">aylar</tspan></text>
<text y="3466.5" font-size="54.5" font-family="'Liberation Sans', sans-serif" font-weight="bold" fill="#fff"><tspan x="223.8" textLength="161.1" lengthAdjust="spacingAndGlyphs">**Faiz</tspan> <tspan x="397.7" textLength="305.7" lengthAdjust="spacingAndGlyphs">dərəcəsinin</tspan> <tspan x="720.4" textLength="154.4" lengthAdjust="spacingAndGlyphs">aşağlı</tspan> <tspan x="886.9" textLength="144.9" lengthAdjust="spacingAndGlyphs">həddi</tspan> <tspan x="1052.0" textLength="129.7" lengthAdjust="spacingAndGlyphs">4%-ə</tspan> <tspan x="1199.4" textLength="219.4" lengthAdjust="spacingAndGlyphs">endirilib</tspan></text>
<line x1="1984.2" y1="3443.5" x2="2071.0" y2="3443.5" stroke="#bfbfbf" stroke-width="14.5" stroke-linecap="round"/>
<text y="3475.5" font-size="100" font-family="'Liberation Sans', sans-serif" fill="#fff"><tspan x="2080.1" textLength="210.1" lengthAdjust="spacingAndGlyphs">Uçot</tspan> <tspan x="2318.2" textLength="150.6" lengthAdjust="spacingAndGlyphs">faiz</tspan> <tspan x="2496.3" textLength="374.3" lengthAdjust="spacingAndGlyphs">dərəcəsi</tspan></text>
<line x1="3070.5" y1="3443.5" x2="3157.5" y2="3443.5" stroke="#ffc000" stroke-width="14.5" stroke-linecap="round"/>
<text y="3475.5" font-size="100" font-family="'Liberation Sans', sans-serif" fill="#fff"><tspan x="3169.4" textLength="236.8" lengthAdjust="spacingAndGlyphs">Aşağı</tspan> <tspan x="3429.4" textLength="254.0" lengthAdjust="spacingAndGlyphs">həddi</tspan></text>
<line x1="3883.7" y1="3443.5" x2="3970.0" y2="3443.5" stroke="#a9d18e" stroke-width="14.5" stroke-linecap="round"/>
<text y="3475.5" font-size="100" font-family="'Liberation Sans', sans-serif" fill="#fff"><tspan x="3980.6" textLength="270.9" lengthAdjust="spacingAndGlyphs">Yuxarı</tspan> <tspan x="4274.3" textLength="254.0" lengthAdjust="spacingAndGlyphs">həddi</tspan></text>
<text font-family="'Liberation Serif', serif" fill="#fff" opacity="0.135" aria-label="Banker.az"><tspan x="1053.6" y="2061.5" font-size="1183.6" textLength="612.3" lengthAdjust="spacingAndGlyphs">B</tspan><tspan x="1651.4" y="2061.5" font-size="1160" textLength="461.8" lengthAdjust="spacingAndGlyphs">a</tspan><tspan x="2086.8" y="2061.5" font-size="1160" textLength="528.2" lengthAdjust="spacingAndGlyphs">n</tspan><tspan x="2589.2" y="2061.5" font-size="1183.6" textLength="493.8" lengthAdjust="spacingAndGlyphs">k</tspan><tspan x="3030.7" y="2061.5" font-size="1160" textLength="458.1" lengthAdjust="spacingAndGlyphs">e</tspan><tspan x="3472.7" y="2061.5" font-size="1160" textLength="279.7" lengthAdjust="spacingAndGlyphs">r</tspan><tspan x="3721.6" y="1605" font-size="735" font-family="'Liberation Sans', sans-serif" textLength="127.2" lengthAdjust="spacingAndGlyphs">.</tspan><tspan x="3824.3" y="1617" font-size="650" textLength="261.8" lengthAdjust="spacingAndGlyphs">a</tspan><tspan x="4084.2" y="1617" font-size="650" textLength="245.2" lengthAdjust="spacingAndGlyphs">z</tspan></text>
</svg>
</body></html>
